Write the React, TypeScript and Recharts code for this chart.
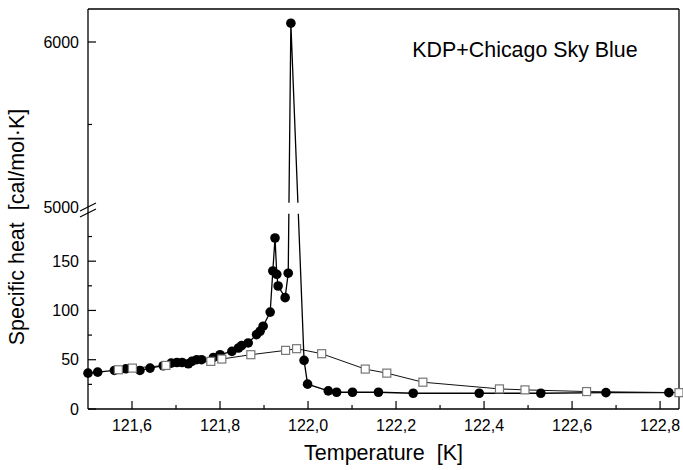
import { LineChart, Line, XAxis, YAxis, ReferenceLine, ReferenceArea } from 'recharts';

// temperature [K] and specific heat [cal/mol·K]
const filledT = [
  121.5, 121.522, 121.56, 121.586, 121.618, 121.641, 121.671, 121.689, 121.702, 121.714,
  121.728, 121.736, 121.747, 121.758, 121.785, 121.8, 121.827, 121.842, 121.849, 121.864,
  121.883, 121.891, 121.898, 121.914, 121.92, 121.925, 121.929, 121.932, 121.948, 121.955,
  121.961, 121.991, 121.999, 122.046, 122.065, 122.101, 122.16, 122.239, 122.389, 122.529,
  122.677, 122.82,
];
const filledC = [
  36.4, 37.4, 39.1, 40.8, 39.1, 41.5, 43.9, 46.6, 47.2, 47.2,
  45.9, 48.3, 50, 50, 52.3, 55.1, 58.5, 61.9, 64.3, 67,
  75.5, 78.9, 84, 98.3, 140.1, 173.5, 136.7, 124.8, 113, 137.8,
  6114, 49.3, 25.2, 18.4, 17, 17, 17, 16, 16, 16,
  16.6, 16.6,
];
const openT = [
  121.569, 121.601, 121.677, 121.779, 121.804, 121.87, 121.949, 121.974, 122.031, 122.13,
  122.179, 122.261, 122.435, 122.493, 122.633, 122.843,
];
const openC = [
  39.8, 41.5, 44.2, 48.3, 50.7, 55.1, 59.5, 61.2, 56.1, 40.5,
  36.4, 27.2, 20.4, 19.4, 17.7, 16.6,
];

const xMajorTicks = [121.6, 121.8, 122.0, 122.2, 122.4, 122.6, 122.8];
const xMinorTicks = [121.7, 121.9, 122.1, 122.3, 122.5, 122.7];
const yMajorTicks = [0, 50, 100, 150, 5000, 6000];
const yMinorTicks = [25, 75, 125, 175, 5500];

const X_DOMAIN = [121.5, 122.843];
const Y_DOMAIN = [0, 6200];

// broken y axis: 0..205 linear, then jump to 5000.., upper part compressed
const BREAK_LOW = 205;
const BREAK_HIGH = 5000;
const UPPER_RATIO = 0.1674;

const filled = filledT.map((t, i) => ({ t, c: filledC[i] }));
const open = openT.map((t, i) => ({ t, c: openC[i] }));

const FONT = '"Liberation Sans", Arial, sans-serif';
const INK = '#000';

function brokenScale(dom: number[] = [0, 1], rng: number[] = [0, 1]): any {
  const fold = (v: number) =>
    v <= BREAK_LOW ? v : v >= BREAK_HIGH ? BREAK_LOW + (v - BREAK_HIGH) * UPPER_RATIO : BREAK_LOW;
  const s: any = (v: number) => {
    const a = fold(dom[0]);
    const b = fold(dom[1]);
    return rng[0] + ((fold(Number(v)) - a) / (b - a)) * (rng[1] - rng[0]);
  };
  s.domain = (d?: any[]) => {
    if (d === undefined) return dom;
    dom = d.map(Number);
    return s;
  };
  s.range = (r?: number[]) => {
    if (r === undefined) return rng;
    rng = r.slice();
    return s;
  };
  s.copy = () => brokenScale(dom.slice(), rng.slice());
  s.ticks = () => yMajorTicks.slice();
  return s;
}

const near = (arr: number[], v: number) => arr.some((a) => Math.abs(a - v) < 1e-6);

const YTick = (props: any) => {
  const { x, y, payload } = props;
  const v = payload.value;
  const major = near(yMajorTicks, v);
  return (
    <g>
      {v === BREAK_HIGH ? (
        <g stroke={INK} strokeWidth={1.2}>
          <line x1={x - 8} y1={y + 4} x2={x + 8} y2={y - 4} />
          <line x1={x - 8} y1={y + 10} x2={x + 8} y2={y + 2} />
        </g>
      ) : (
        <line x1={x} y1={y} x2={x + (major ? 8 : 4)} y2={y} stroke={INK} strokeWidth={1.2} />
      )}
      {major && (
        <text x={x - 9} y={y} dy="0.35em" textAnchor="end" fontSize={16} fontFamily={FONT} fill={INK}>
          {v}
        </text>
      )}
    </g>
  );
};

const XTick = (props: any) => {
  const { x, y, payload } = props;
  const v = payload.value;
  const major = near(xMajorTicks, v);
  return (
    <g>
      <line x1={x} y1={y} x2={x} y2={y - (major ? 8 : 4)} stroke={INK} strokeWidth={1.2} />
      {major && (
        <text x={x} y={y + 22} textAnchor="middle" fontSize={16} fontFamily={FONT} fill={INK}>
          {v.toFixed(1).replace('.', ',')}
        </text>
      )}
    </g>
  );
};

const SquareDot = (p: any) => (
  <rect key={p.index} x={p.cx - 4} y={p.cy - 4} width={8} height={8} fill="#fff" stroke="#777" strokeWidth={1.2} />
);

export default function App() {
  return (
    <div style={{ position: 'absolute', left: 0, top: 0, width: 683, height: 470, background: '#fff' }}>
      <LineChart width={683} height={470} margin={{ top: 9, right: 4, bottom: 31, left: 8 }}>
        <XAxis
          dataKey="t"
          type="number"
          domain={X_DOMAIN}
          ticks={[...xMajorTicks, ...xMinorTicks]}
          interval={0}
          height={30}
          tickSize={0}
          tickMargin={0}
          tickLine={false}
          tick={<XTick />}
          axisLine={{ stroke: INK, strokeWidth: 1.3 }}
          label={{
            content: () => (
              <text x={383.5} y={460} textAnchor="middle" fontSize={21.5} fontFamily={FONT} fill={INK} style={{ whiteSpace: 'pre' }}>
                Temperature  [K]
              </text>
            ),
          }}
        />
        <YAxis
          type="number"
          domain={Y_DOMAIN}
          scale={brokenScale()}
          ticks={[...yMajorTicks, ...yMinorTicks]}
          interval={0}
          width={80}
          tickSize={0}
          tickMargin={0}
          tickLine={false}
          tick={<YTick />}
          axisLine={{ stroke: INK, strokeWidth: 1.3 }}
          label={{
            content: () => (
              <text
                x={24}
                y={227}
                transform="rotate(-90 24 227)"
                textAnchor="middle"
                fontSize={21.5}
                fontFamily={FONT}
                fill={INK}
                style={{ whiteSpace: 'pre' }}
              >
                Specific heat  [cal/mol·K]
              </text>
            ),
          }}
        />
        <Line
          data={filled}
          dataKey="c"
          stroke={INK}
          strokeWidth={1.3}
          dot={{ r: 4.8, fill: INK, stroke: INK, strokeWidth: 0 }}
          activeDot={false}
          isAnimationActive={false}
        />
        <Line
          data={open}
          dataKey="c"
          stroke="#111"
          strokeWidth={1}
          dot={SquareDot}
          activeDot={false}
          isAnimationActive={false}
        />
        <ReferenceArea x1={121.9} x2={122.05} y1={198} y2={5025} fill="#fff" fillOpacity={1} stroke="none" zIndex={450} />
        <ReferenceLine
          y={6200}
          stroke={INK}
          strokeWidth={1.3}
          label={{
            content: () => (
              <text x={525} y={57} textAnchor="middle" fontSize={21.4} fontFamily={FONT} fill={INK}>
                KDP+Chicago Sky Blue
              </text>
            ),
          }}
        />
        <ReferenceLine x={122.843} stroke={INK} strokeWidth={1.3} />
      </LineChart>
    </div>
  );
}
